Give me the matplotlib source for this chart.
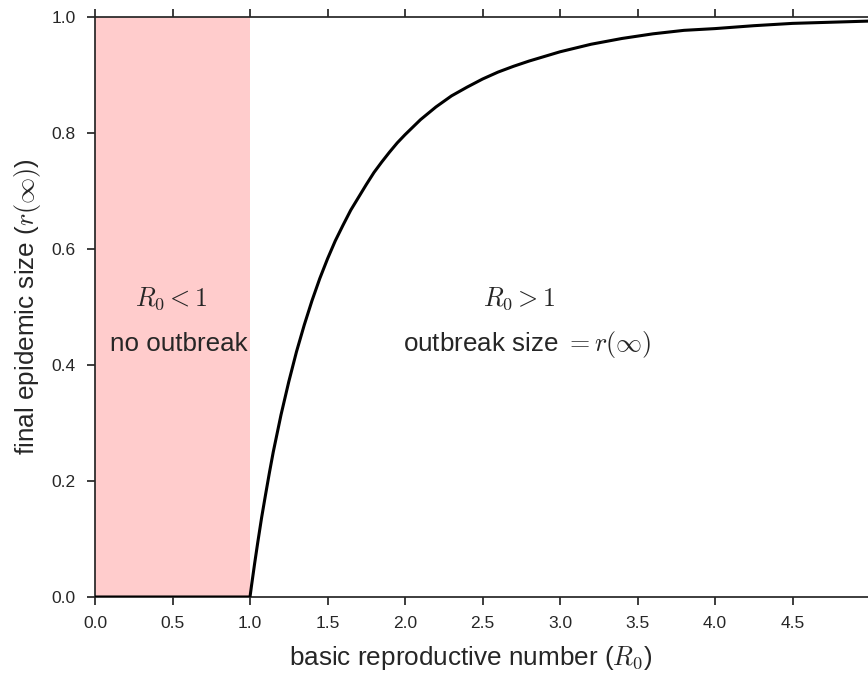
import numpy as np
import matplotlib
matplotlib.use("Agg")
import matplotlib.pyplot as plt

# final epidemic size
R0 = [0.0, 0.5, 1.0, 1.01, 1.02, 1.03, 1.05, 1.075, 1.1, 1.125, 1.15, 1.2, 1.25,
      1.3, 1.35, 1.4, 1.45, 1.5, 1.55, 1.6, 1.65, 1.7, 1.75, 1.8, 1.85, 1.9,
      1.95, 2.0, 2.1, 2.2, 2.3, 2.4, 2.5, 2.6, 2.7, 2.8, 2.9, 3.0, 3.2, 3.4,
      3.6, 3.8, 4.0, 4.25, 4.5, 4.75, 5.0]
r_inf = [0.0, 0.0, 0.0, 0.020, 0.039, 0.058, 0.094, 0.137, 0.176, 0.214, 0.250,
         0.314, 0.371, 0.423, 0.469, 0.511, 0.549, 0.583, 0.614, 0.641, 0.667,
         0.689, 0.711, 0.732, 0.750, 0.767, 0.783, 0.797, 0.823, 0.845, 0.864,
         0.879, 0.893, 0.905, 0.915, 0.924, 0.932, 0.940, 0.953, 0.963, 0.971,
         0.977, 0.980, 0.985, 0.989, 0.991, 0.993]

xticks = [0.0, 0.5, 1.0, 1.5, 2.0, 2.5, 3.0, 3.5, 4.0, 4.5]
yticks = [0.0, 0.2, 0.4, 0.6, 0.8, 1.0]

plt.rcParams['font.family'] = ['Liberation Sans', 'DejaVu Sans']
plt.rcParams['mathtext.fontset'] = 'cm'
dark = '#262626'

fig = plt.figure(figsize=(8.68, 6.73), dpi=100)
ax = fig.add_axes([95/868, 76/673, 775/868, 580/673])

ax.axvspan(0, 1, color='red', alpha=0.2, lw=0)
ax.plot(R0, r_inf, color='black', lw=2.2, zorder=3)

fs = 18.7
ax.text(0.49, 0.514, r'$R_0 < 1$', ha='center', va='center', fontsize=fs, color=dark)
ax.text(0.54, 0.436, 'no outbreak', ha='center', va='center', fontsize=fs, color=dark)
ax.text(2.74, 0.514, r'$R_0 > 1$', ha='center', va='center', fontsize=fs, color=dark)
ax.text(2.79, 0.436, r'outbreak size $= r(\infty)$', ha='center', va='center',
        fontsize=fs, color=dark)

ax.set_xlim(0, 5)
ax.set_ylim(0, 1)
ax.set_xticks(xticks)
ax.set_yticks(yticks)
ax.tick_params(direction='out', length=6, width=1.25, colors=dark, labelsize=12.5,
               pad=8)
ax.tick_params(axis='x', top=True, labeltop=False)
for s in ax.spines.values():
    s.set_color(dark)
    s.set_linewidth(1.25)
ax.spines['right'].set_visible(False)

ax.set_xlabel(r'basic reproductive number ($R_0$)', fontsize=18.85, color=dark)
ax.set_ylabel(r'final epidemic size ($r(\infty)$)', fontsize=18.85, color=dark, labelpad=6)
ax.xaxis.set_label_coords(0.485, -0.082)

fig.savefig('out.png', dpi=100)
